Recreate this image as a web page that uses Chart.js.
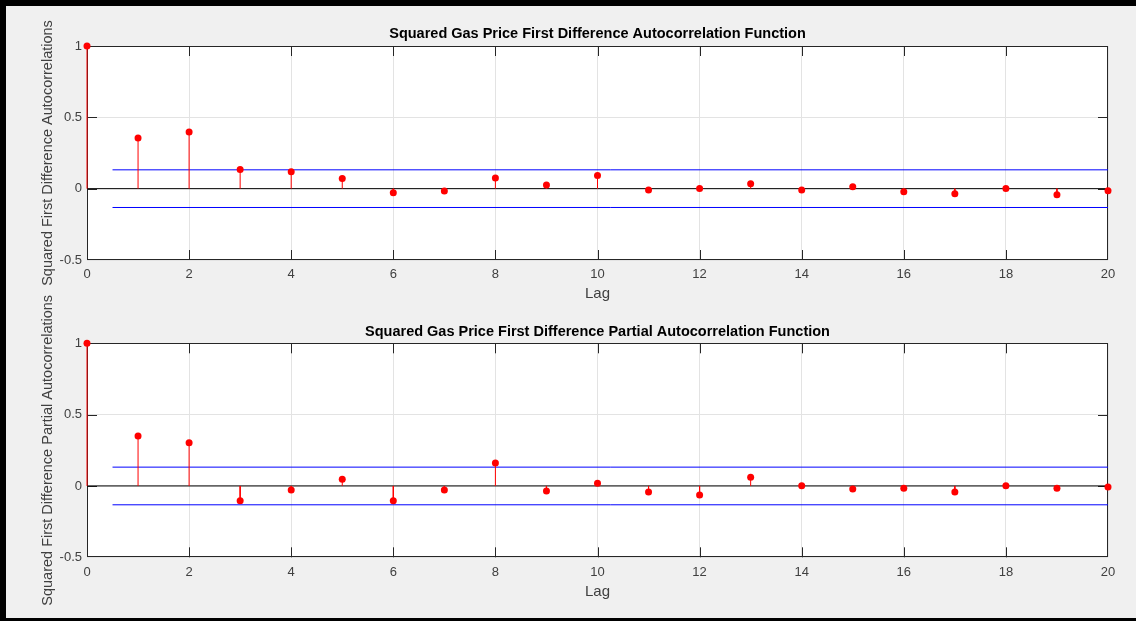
<!DOCTYPE html>
<html>
<head>
<meta charset="utf-8">
<script src="https://cdn.jsdelivr.net/npm/chart.js@4.4.1/dist/chart.umd.min.js"></script>
<style>
  html, body { margin: 0; padding: 0; background: #f0f0f0; width: 1136px; height: 621px; overflow: hidden; }
  #frame { position: absolute; left: 0; top: 0; width: 1136px; height: 621px; box-sizing: border-box;
           border-top: 6px solid #000; border-left: 6px solid #000; border-bottom: 3px solid #000; }
  canvas { position: absolute; left: 0; }
  #c1 { top: 0; }
  #c2 { top: 280px; }
</style>
</head>
<body>
<div id="frame"></div>
<canvas id="c1" width="1136" height="310"></canvas>
<canvas id="c2" width="1136" height="341"></canvas>
<script>
// ---- data ----
const lags = [0, 1, 2, 3, 4, 5, 6, 7, 8, 9, 10, 11, 12, 13, 14, 15, 16, 17, 18, 19, 20];
const acfValues = [1, 0.356, 0.398, 0.135, 0.118, 0.072, -0.029, -0.017, 0.074, 0.025, 0.093,
                   -0.010, 0.002, 0.034, -0.010, 0.013, -0.022, -0.036, 0.002, -0.043, -0.015];
const pacfValues = [1, 0.350, 0.303, -0.103, -0.028, 0.047, -0.103, -0.028, 0.161, -0.035, 0.019,
                    -0.042, -0.063, 0.061, 0.002, -0.021, -0.016, -0.042, 0.001, -0.016, -0.007];
const confBound = 0.132;
const boundStartLag = 0.5;
const acfTitle = 'Squared Gas Price First Difference Autocorrelation Function';
const pacfTitle = 'Squared Gas Price First Difference Partial Autocorrelation Function';
const acfYLabel = 'Squared First Difference Autocorrelations';
const pacfYLabel = 'Squared First Difference Partial Autocorrelations';
const xLabel = 'Lag';

const FONT = "'Liberation Sans', Arial, Helvetica, sans-serif";
const AXIS_COLOR = '#262626';
const TEXT_COLOR = '#404040';

const framePlugin = {
  id: 'matlabFrame',
  beforeDraw(chart) {
    const {ctx, chartArea: a} = chart;
    ctx.save();
    ctx.fillStyle = '#ffffff';
    ctx.fillRect(a.left, a.top, a.right - a.left, a.bottom - a.top);
    ctx.restore();
  },
  beforeDatasetsDraw(chart) {
    const {ctx, chartArea: a, scales} = chart;
    ctx.save();
    ctx.strokeStyle = AXIS_COLOR;
    ctx.lineWidth = 1;
    ctx.strokeRect(Math.round(a.left) + 0.5, Math.round(a.top) + 0.5,
                   Math.round(a.right - a.left) - 1, Math.round(a.bottom - a.top) - 1);
    const tl = 10;
    ctx.beginPath();
    scales.x.ticks.forEach(t => {
      if (t.value === scales.x.min || t.value === scales.x.max) return;
      const px = Math.round(scales.x.getPixelForValue(t.value)) + 0.5;
      ctx.moveTo(px, a.top); ctx.lineTo(px, a.top + tl);
      ctx.moveTo(px, a.bottom); ctx.lineTo(px, a.bottom - tl);
    });
    scales.y.ticks.forEach(t => {
      if (t.value === scales.y.min || t.value === scales.y.max) return;
      const py = Math.round(scales.y.getPixelForValue(t.value)) + 0.5;
      ctx.moveTo(a.left, py); ctx.lineTo(a.left + tl, py);
      ctx.moveTo(a.right, py); ctx.lineTo(a.right - tl, py);
    });
    ctx.stroke();
    ctx.restore();
  }
};

function makeChart(canvasId, values, title, yLabel, geo) {
  const stems = [];
  lags.forEach((lag, i) => {
    stems.push({x: lag, y: 0}, {x: lag, y: values[i]}, {x: lag, y: null});
  });
  const markers = lags.map((lag, i) => ({x: lag, y: values[i]}));
  const lastLag = lags[lags.length - 1];
  return new Chart(document.getElementById(canvasId), {
    type: 'scatter',
    data: {
      datasets: [
        { data: [{x: boundStartLag, y: confBound}, {x: lastLag, y: confBound}],
          showLine: true, borderColor: '#0000ff', borderWidth: 1, pointRadius: 0, order: 4 },
        { data: [{x: boundStartLag, y: -confBound}, {x: lastLag, y: -confBound}],
          showLine: true, borderColor: '#0000ff', borderWidth: 1, pointRadius: 0, order: 4 },
        { data: [{x: lags[0], y: 0}, {x: lastLag, y: 0}],
          showLine: true, borderColor: '#000000', borderWidth: 1, pointRadius: 0, order: 3 },
        { data: stems, showLine: true, spanGaps: false, borderColor: '#ff0000', borderWidth: 1,
          pointRadius: 0, order: 2, clip: false },
        { data: markers, showLine: false, pointRadius: 3.5, pointBackgroundColor: '#ff0000',
          pointBorderColor: '#ff0000', pointBorderWidth: 0, order: 1, clip: false }
      ]
    },
    options: {
      responsive: false,
      animation: false,
      events: [],
      layout: { padding: { left: 0, right: 28, top: geo.padTop, bottom: 0 } },
      plugins: {
        legend: { display: false },
        tooltip: { enabled: false },
        title: {
          display: true, text: title, fullSize: false, color: '#000000',
          font: { family: FONT, size: 14.5, weight: 'bold', lineHeight: 1.2 },
          padding: { top: geo.titleTop, bottom: geo.titleBottom }
        }
      },
      scales: {
        x: {
          type: 'linear', min: 0, max: 20,
          ticks: { stepSize: 2, color: TEXT_COLOR, padding: 7, font: { family: FONT, size: 13 } },
          grid: { color: '#e3e3e3', drawTicks: false },
          border: { display: false },
          title: { display: true, text: xLabel, color: TEXT_COLOR,
                   font: { family: FONT, size: 15, lineHeight: 1.2 },
                   padding: { top: 0, bottom: geo.lagBottom } },
          afterFit: s => { s.height = geo.xHeight; }
        },
        y: {
          type: 'linear', min: -0.5, max: 1,
          ticks: { stepSize: 0.5, color: TEXT_COLOR, padding: 5, font: { family: FONT, size: 13 },
                   callback: v => String(Number(v.toFixed(2))) },
          grid: { color: '#e3e3e3', drawTicks: false },
          border: { display: false },
          title: { display: true, text: yLabel, color: TEXT_COLOR,
                   font: { family: FONT, size: 14.5, lineHeight: 1.2 },
                   padding: { top: 39, bottom: 0 } },
          afterFit: s => { s.width = 87; }
        }
      }
    },
    plugins: [framePlugin]
  });
}

makeChart('c1', acfValues, acfTitle, acfYLabel,
  { padTop: 6, titleTop: 19.3, titleBottom: 3.3, xHeight: 50, lagBottom: 7.6 });
makeChart('c2', pacfValues, pacfTitle, pacfYLabel,
  { padTop: 30, titleTop: 13.3, titleBottom: 2.6, xHeight: 63.7, lagBottom: 19.9 });
</script>
</body>
</html>
